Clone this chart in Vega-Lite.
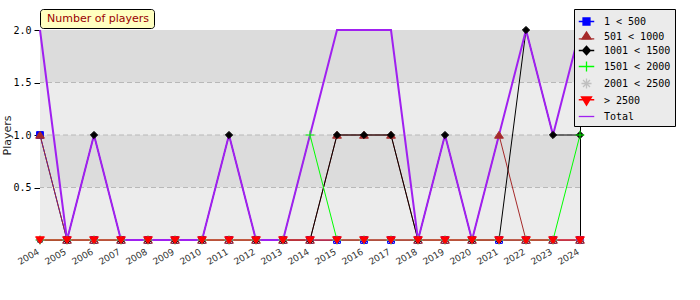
{
  "$schema": "https://vega.github.io/schema/vega-lite/v6.json",
  "width": 540,
  "height": 210,
  "autosize": {"type": "none"},
  "padding": {"left": 40, "top": 30, "right": 120, "bottom": 60},
  "background": "white",
  "config": {
    "font": "DejaVu Sans",
    "view": {"fill": "#ececec", "stroke": "black", "strokeWidth": 1},
    "axis": {"zindex": 1},
    "axisX": {"labelAngle": -30, "labelFont": "DejaVu Sans", "labelFontSize": 9, "labelColor": "#333333", "tickSize": -5, "tickColor": "black", "domainColor": "black", "labelPadding": 12, "labelOffset": -4, "grid": false},
    "axisY": {"labelFont": "DejaVu Sans Mono", "labelFontSize": 10, "labelColor": "black", "tickColor": "black", "domainColor": "black", "grid": false, "labelPadding": 3, "labelOverlap": false, "titleFont": "DejaVu Sans", "titleFontSize": 11, "titleFontWeight": "normal", "titleColor": "#222222", "titlePadding": 0}
  },
  "datasets": {
    "players": [
      {"year": "2004", "1 < 500": 1, "501 < 1000": 1, "1001 < 1500": 0, "1501 < 2000": 0, "2001 < 2500": 0, "> 2500": 0, "Total": 2},
      {"year": "2005", "1 < 500": 0, "501 < 1000": 0, "1001 < 1500": 0, "1501 < 2000": 0, "2001 < 2500": 0, "> 2500": 0, "Total": 0},
      {"year": "2006", "1 < 500": 0, "501 < 1000": 0, "1001 < 1500": 1, "1501 < 2000": 0, "2001 < 2500": 0, "> 2500": 0, "Total": 1},
      {"year": "2007", "1 < 500": 0, "501 < 1000": 0, "1001 < 1500": 0, "1501 < 2000": 0, "2001 < 2500": 0, "> 2500": 0, "Total": 0},
      {"year": "2008", "1 < 500": 0, "501 < 1000": 0, "1001 < 1500": 0, "1501 < 2000": 0, "2001 < 2500": 0, "> 2500": 0, "Total": 0},
      {"year": "2009", "1 < 500": 0, "501 < 1000": 0, "1001 < 1500": 0, "1501 < 2000": 0, "2001 < 2500": 0, "> 2500": 0, "Total": 0},
      {"year": "2010", "1 < 500": 0, "501 < 1000": 0, "1001 < 1500": 0, "1501 < 2000": 0, "2001 < 2500": 0, "> 2500": 0, "Total": 0},
      {"year": "2011", "1 < 500": 0, "501 < 1000": 0, "1001 < 1500": 1, "1501 < 2000": 0, "2001 < 2500": 0, "> 2500": 0, "Total": 1},
      {"year": "2012", "1 < 500": 0, "501 < 1000": 0, "1001 < 1500": 0, "1501 < 2000": 0, "2001 < 2500": 0, "> 2500": 0, "Total": 0},
      {"year": "2013", "1 < 500": 0, "501 < 1000": 0, "1001 < 1500": 0, "1501 < 2000": 0, "2001 < 2500": 0, "> 2500": 0, "Total": 0},
      {"year": "2014", "1 < 500": 0, "501 < 1000": 0, "1001 < 1500": 0, "1501 < 2000": 1, "2001 < 2500": 0, "> 2500": 0, "Total": 1},
      {"year": "2015", "1 < 500": 0, "501 < 1000": 1, "1001 < 1500": 1, "1501 < 2000": 0, "2001 < 2500": 0, "> 2500": 0, "Total": 2},
      {"year": "2016", "1 < 500": 0, "501 < 1000": 1, "1001 < 1500": 1, "1501 < 2000": 0, "2001 < 2500": 0, "> 2500": 0, "Total": 2},
      {"year": "2017", "1 < 500": 0, "501 < 1000": 1, "1001 < 1500": 1, "1501 < 2000": 0, "2001 < 2500": 0, "> 2500": 0, "Total": 2},
      {"year": "2018", "1 < 500": 0, "501 < 1000": 0, "1001 < 1500": 0, "1501 < 2000": 0, "2001 < 2500": 0, "> 2500": 0, "Total": 0},
      {"year": "2019", "1 < 500": 0, "501 < 1000": 0, "1001 < 1500": 1, "1501 < 2000": 0, "2001 < 2500": 0, "> 2500": 0, "Total": 1},
      {"year": "2020", "1 < 500": 0, "501 < 1000": 0, "1001 < 1500": 0, "1501 < 2000": 0, "2001 < 2500": 0, "> 2500": 0, "Total": 0},
      {"year": "2021", "1 < 500": 0, "501 < 1000": 1, "1001 < 1500": 0, "1501 < 2000": 0, "2001 < 2500": 0, "> 2500": 0, "Total": 1},
      {"year": "2022", "1 < 500": 0, "501 < 1000": 0, "1001 < 1500": 2, "1501 < 2000": 0, "2001 < 2500": 0, "> 2500": 0, "Total": 2},
      {"year": "2023", "1 < 500": 0, "501 < 1000": 0, "1001 < 1500": 1, "1501 < 2000": 0, "2001 < 2500": 0, "> 2500": 0, "Total": 1},
      {"year": "2024", "1 < 500": 0, "501 < 1000": 0, "1001 < 1500": 1, "1501 < 2000": 1, "2001 < 2500": 0, "> 2500": 0, "Total": 2}
    ]
  },
  "data": {"name": "players"},
  "transform": [
    {"fold": ["1 < 500", "501 < 1000", "1001 < 1500", "1501 < 2000", "2001 < 2500", "> 2500", "Total"], "as": ["series", "value"]}
  ],
  "resolve": {"axis": {"y": "independent"}},
  "layer": [
    {
      "data": {"values": [{"lo": 0, "hi": 0.5}, {"lo": 1, "hi": 1.5}]},
      "transform": [],
      "mark": {"type": "rect", "color": "#ececec"},
      "encoding": {
        "y": {"field": "lo", "type": "quantitative", "title": "Players", "scale": {"domain": [0, 2], "nice": false},
          "axis": {"orient": "left", "values": [0.5, 1, 1.5, 2], "format": ".1f", "tickSize": 6, "labelOverlap": false, "title": "Players"}},
        "y2": {"field": "hi"}
      }
    },
    {
      "data": {"values": [{"lo": 0.5, "hi": 1}, {"lo": 1.5, "hi": 2}]},
      "transform": [],
      "mark": {"type": "rect", "color": "#dcdcdc"},
      "encoding": {
        "y": {"field": "lo", "type": "quantitative", "title": "Players",
          "axis": {"orient": "left", "values": [0.1, 0.2, 0.3, 0.4, 0.6, 0.7, 0.8, 0.9, 1.1, 1.2, 1.3, 1.4, 1.6, 1.7, 1.8, 1.9], "tickSize": -4, "labels": false, "domain": false, "title": null}},
        "y2": {"field": "hi"}
      }
    },
    {
      "data": {"values": [{"g": 0.5}, {"g": 1}, {"g": 1.5}]},
      "transform": [],
      "mark": {"type": "rule", "color": "#b8b8b8", "strokeDash": [5, 3], "strokeWidth": 1},
      "encoding": {
        "y": {"field": "g", "type": "quantitative", "axis": null}
      }
    },
    {
      "transform": [{"filter": "datum.series != 'Total'"}],
      "mark": {"type": "line", "strokeWidth": 1},
      "encoding": {
        "x": {"field": "year", "type": "ordinal", "title": null, "scale": {"type": "point", "padding": 0}},
        "y": {"field": "value", "type": "quantitative", "axis": null},
        "color": {"field": "series", "type": "nominal", "legend": null,
          "scale": {"domain": ["Total", "1 < 500", "501 < 1000", "1001 < 1500", "1501 < 2000", "2001 < 2500", "> 2500"],
                    "range": ["#a020f0", "#0000ff", "#a52a2a", "#000000", "#00ff00", "#c0c0c0", "#ff0000"]}}
      }
    },
    {
      "transform": [{"filter": "datum.series == 'Total'"}],
      "mark": {"type": "line", "strokeWidth": 2},
      "encoding": {
        "x": {"field": "year", "type": "ordinal", "title": null},
        "y": {"field": "value", "type": "quantitative", "axis": null},
        "color": {"field": "series", "type": "nominal", "legend": null}
      }
    },
    {
      "transform": [{"filter": "datum.series == '1 < 500'"}],
      "mark": {"type": "point", "filled": true, "size": 64, "opacity": 1, "fill": "#0000ff", "stroke": "#0000ff", "strokeWidth": 1, "shape": "M-0.85,-0.85H0.85V0.85H-0.85Z"},
      "encoding": {
        "x": {"field": "year", "type": "ordinal", "title": null},
        "y": {"field": "value", "type": "quantitative", "axis": null}
      }
    },
    {
      "transform": [{"filter": "datum.series == '501 < 1000'"}],
      "mark": {"type": "point", "filled": true, "size": 64, "opacity": 1, "fill": "#a52a2a", "stroke": "#a52a2a", "strokeWidth": 1, "shape": "M-1.1,0.8L0,-0.9L1.1,0.8Z"},
      "encoding": {
        "x": {"field": "year", "type": "ordinal", "title": null},
        "y": {"field": "value", "type": "quantitative", "axis": null}
      }
    },
    {
      "transform": [{"filter": "datum.series == '1001 < 1500'"}],
      "mark": {"type": "point", "filled": true, "size": 64, "opacity": 1, "fill": "#000000", "stroke": "#000000", "strokeWidth": 1, "shape": "M-0.9,0L0,-0.9L0.9,0L0,0.9Z"},
      "encoding": {
        "x": {"field": "year", "type": "ordinal", "title": null},
        "y": {"field": "value", "type": "quantitative", "axis": null}
      }
    },
    {
      "transform": [{"filter": "datum.series == '1501 < 2000'"}],
      "mark": {"type": "point", "filled": false, "size": 64, "opacity": 1, "stroke": "#00ff00", "strokeWidth": 1, "shape": "M-1.1,0H1.1M0,-1.1V1.1"},
      "encoding": {
        "x": {"field": "year", "type": "ordinal", "title": null},
        "y": {"field": "value", "type": "quantitative", "axis": null}
      }
    },
    {
      "transform": [{"filter": "datum.series == '2001 < 2500'"}],
      "mark": {"type": "point", "filled": false, "size": 64, "opacity": 1, "stroke": "#b0b0b0", "strokeWidth": 1, "shape": "M-1.1,0H1.1M0,-1.1V1.1M-0.8,-0.8L0.8,0.8M-0.8,0.8L0.8,-0.8"},
      "encoding": {
        "x": {"field": "year", "type": "ordinal", "title": null},
        "y": {"field": "value", "type": "quantitative", "axis": null}
      }
    },
    {
      "transform": [{"filter": "datum.series == '> 2500'"}],
      "mark": {"type": "point", "filled": true, "size": 64, "opacity": 1, "fill": "#ff0000", "stroke": "#ff0000", "strokeWidth": 1, "shape": "M-1.1,-0.8H1.1L0,0.9Z"},
      "encoding": {
        "x": {"field": "year", "type": "ordinal", "title": null},
        "y": {"field": "value", "type": "quantitative", "axis": null}
      }
    },
    {
      "transform": [{"filter": "datum.year == '2004'"}],
      "mark": {"type": "point", "filled": true, "size": 0, "opacity": 1, "strokeWidth": 1.3},
      "encoding": {
        "fill": {"field": "series", "type": "nominal",
          "scale": {"domain": ["1 < 500", "501 < 1000", "1001 < 1500", "1501 < 2000", "2001 < 2500", "> 2500", "Total"],
                    "range": ["#0000ff", "#a52a2a", "#000000", "#00ff00", "#c0c0c0", "#ff0000", "#a020f0"]},
          "legend": {"orient": "none", "legendX": 534, "legendY": -21, "title": null, "fillColor": "#ebebeb", "strokeColor": "black", "padding": 4, "rowPadding": 0, "symbolSize": 240, "symbolStrokeWidth": 1.3, "symbolOpacity": 1, "labelFont": "DejaVu Sans Mono", "labelFontSize": 10, "labelColor": "black", "labelOffset": 9, "labelExpr": "datum.label + '\u00a0\u00a0'"}},
        "stroke": {"field": "series", "type": "nominal",
          "scale": {"domain": ["1 < 500", "501 < 1000", "1001 < 1500", "1501 < 2000", "2001 < 2500", "> 2500", "Total"],
                    "range": ["#0000ff", "#a52a2a", "#000000", "#00ff00", "#c0c0c0", "#ff0000", "#a020f0"]},
          "legend": {"orient": "none", "legendX": 534, "legendY": -21, "title": null, "fillColor": "#ebebeb", "strokeColor": "black", "padding": 4, "rowPadding": 0, "symbolSize": 240, "symbolStrokeWidth": 1.3, "symbolOpacity": 1, "labelFont": "DejaVu Sans Mono", "labelFontSize": 10, "labelColor": "black", "labelOffset": 9, "labelExpr": "datum.label + '\u00a0\u00a0'"}},
        "shape": {"field": "series", "type": "nominal",
          "scale": {"domain": ["1 < 500", "501 < 1000", "1001 < 1500", "1501 < 2000", "2001 < 2500", "> 2500", "Total"],
                    "range": [
                      "M-1,0H1M-0.45,-0.45H0.45V0.45H-0.45Z",
                      "M-1,0.3H1M-0.6,0.35L0,-0.6L0.6,0.35Z",
                      "M-1,0H1M-0.5,0L0,-0.55L0.5,0L0,0.55Z",
                      "M-1,0H1M0,-0.65V0.65",
                      "M-0.65,0H0.65M0,-0.65V0.65M-0.45,-0.45L0.45,0.45M-0.45,0.45L0.45,-0.45",
                      "M-1,-0.1H1M-0.65,-0.45H0.65L0,0.6Z",
                      "M-1,0H1"
                    ]},
          "legend": {"orient": "none", "legendX": 534, "legendY": -21, "title": null, "fillColor": "#ebebeb", "strokeColor": "black", "padding": 4, "rowPadding": 0, "symbolSize": 240, "symbolStrokeWidth": 1.3, "symbolOpacity": 1, "labelFont": "DejaVu Sans Mono", "labelFontSize": 10, "labelColor": "black", "labelOffset": 9, "labelExpr": "datum.label + '\u00a0\u00a0'"}}
      }
    },
    {
      "data": {"values": [{"t": "Number of players"}]},
      "transform": [],
      "mark": {"type": "point", "opacity": 0},
      "encoding": {
        "strokeDash": {"field": "t", "type": "nominal",
          "legend": {"orient": "none", "legendX": 0, "legendY": -21, "title": null, "fillColor": "#ffffc0", "strokeColor": "black", "padding": 4, "cornerRadius": 3, "symbolSize": 1, "symbolOpacity": 0, "labelOffset": -8, "labelFont": "DejaVu Sans", "labelFontSize": 11, "labelColor": "#990000"}}
      }
    }
  ]
}
